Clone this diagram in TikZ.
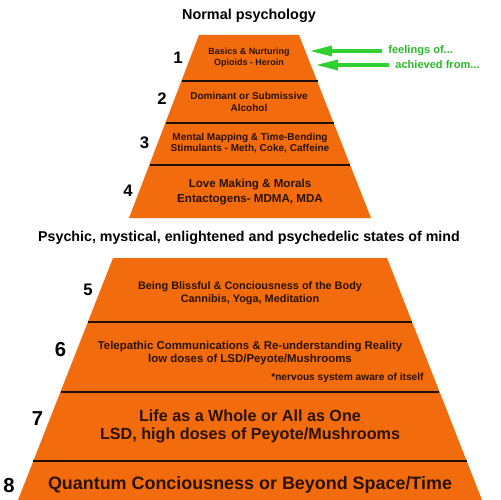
\documentclass[tikz,border=0pt]{standalone}
\usepackage{fontspec}
\setmainfont{Liberation Sans}
\usetikzlibrary{arrows.meta}

\definecolor{pyrorange}{HTML}{F26C0E}
\definecolor{textdark}{HTML}{2A1200}
\definecolor{linedark}{HTML}{1E0E02}
\definecolor{arrowgreen}{HTML}{2FD02F}
\definecolor{labelgreen}{HTML}{2DB82D}

\newcommand{\fsz}[2]{\fontsize{#1pt}{#2pt}\selectfont\bfseries}

\tikzset{
  band/.style={fill=pyrorange},
  divider/.style={line width=1.5pt, draw=linedark},
  level/.style={text=textdark, align=center, inner sep=0pt},
  lvlnum/.style={inner sep=0pt, font=\fsz{9.5}{11}},
  bignum/.style={inner sep=0pt, font=\fsz{11.5}{13}},
  hint/.style={-{Triangle[length=13pt,width=5.5pt]}, line width=2.2pt, draw=arrowgreen},
  hintlabel/.style={text=labelgreen, inner sep=0pt, anchor=west, font=\fsz{6.3}{7}},
}

\begin{document}
\begin{tikzpicture}[x=0.02cm, y=-0.02cm]

  \useasboundingbox[fill=white] (0,0) rectangle (500,500);

  % --- titoli ---
  \node[inner sep=0pt, font=\fsz{8.2}{10}] (normal) at (249,16) {Normal psychology};
  \node[inner sep=0pt, font=\fsz{8.1}{10}] (psychic) at (249,238)
    {Psychic, mystical, enlightened and psychedelic states of mind};

  % --- piramide alta ---
  \fill[band] (199,35) -- (299,35) -- (371,218) -- (129,218) -- cycle;
  \draw[divider] (182,81) -- (318,81);
  \draw[divider] (166,123) -- (334,123);
  \draw[divider] (150,165) -- (350,165);

  \node[level, font=\fsz{5.1}{6.3}] (lv1) at (249,57.5) {Basics \& Nurturing\\Opioids - Heroin};
  \node[level, font=\fsz{5.7}{6.8}] (lv2) at (249,102) {Dominant or Submissive\\Alcohol};
  \node[level, font=\fsz{5.7}{6.3}] (lv3) at (250,143.5) {Mental Mapping \& Time-Bending\\Stimulants - Meth, Coke, Caffeine};
  \node[level, font=\fsz{6.6}{8}] (lv4) at (250,192) {Love Making \& Morals\\Entactogens- MDMA, MDA};

  \node[lvlnum] (n1) at (178,57.5) {1};
  \node[lvlnum] (n2) at (162,99) {2};
  \node[lvlnum] (n3) at (144.5,143) {3};
  \node[lvlnum] (n4) at (128,191) {4};

  % --- frecce verdi ---
  \coordinate (tip1) at (309,51);
  \coordinate (tip2) at (315,65);
  \node[hintlabel] (feel) at (388,51) {feelings of...};
  \node[hintlabel] (achieved) at (395,65) {achieved from...};
  \draw[hint] ([xshift=-3.5pt]feel.west) -- (tip1);
  \draw[hint] ([xshift=-3.5pt]achieved.west) -- (tip2);

  % --- piramide bassa ---
  \fill[band] (113,258) -- (387,258) -- (482,500) -- (18,500) -- cycle;
  \draw[divider] (88,322) -- (412,322);
  \draw[divider] (61,392) -- (439,392);
  \draw[divider] (33,461) -- (467,461);

  \node[level, font=\fsz{6.2}{7.4}] (lv5) at (250,293.5) {Being Blissful \& Conciousness of the Body\\Cannibis, Yoga, Meditation};
  \node[level, font=\fsz{6.5}{7.4}] (lv6) at (250,353.5) {Telepathic Communications \& Re-understanding Reality\\low doses of LSD/Peyote/Mushrooms};
  \node[level, anchor=east, font=\fsz{5.8}{7}] (note) at (424,378) {*nervous system aware of itself};
  \node[level, font=\fsz{9.2}{10.2}] (lv7) at (250,426) {Life as a Whole or All as One\\LSD, high doses of Peyote/Mushrooms};
  \node[level, font=\fsz{10.2}{12}] (lv8) at (250,485) {Quantum Conciousness or Beyond Space/Time};

  \node[lvlnum] (n5) at (88,290) {5};
  \node[bignum] (n6) at (60.5,350) {6};
  \node[bignum] (n7) at (37.5,419) {7};
  \node[bignum] (n8) at (9,486) {8};

\end{tikzpicture}
\end{document}
